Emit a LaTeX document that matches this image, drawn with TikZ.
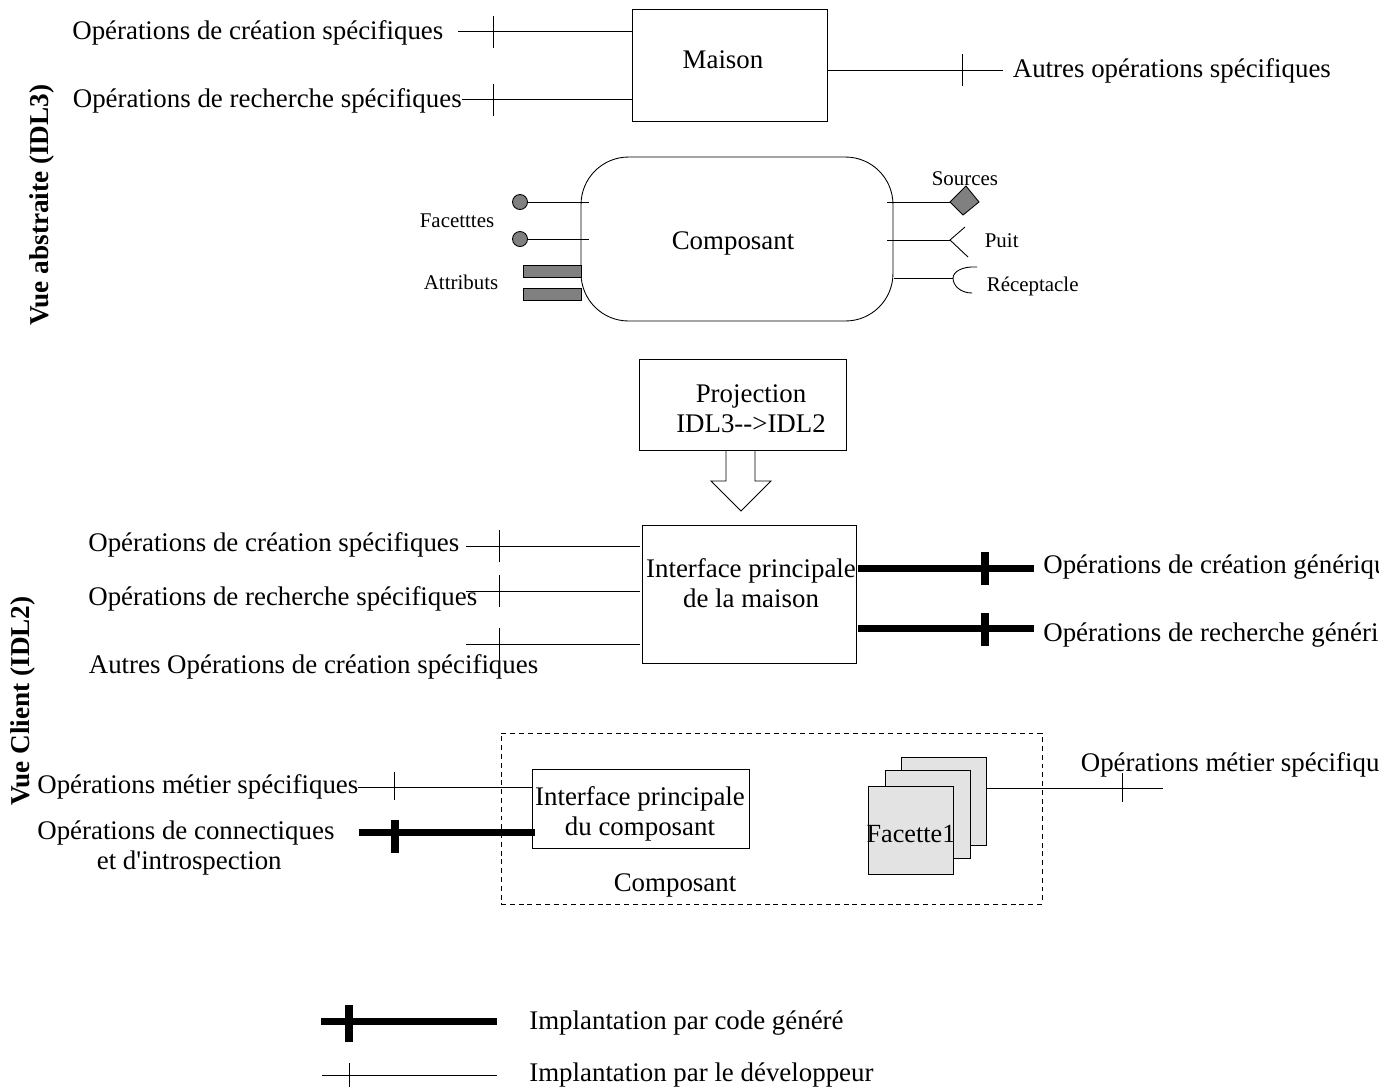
\documentclass[tikz,border=0pt]{standalone}
\usepackage{fontspec}
\setmainfont{Liberation Serif}[Ligatures=TeXOff]

\tikzset{
  fil/.style={draw=black,line width=0.5pt},
  fort/.style={draw=black,line width=4pt},
  boite/.style={draw=black,line width=0.5pt,inner sep=0pt},
  etiq/.style={anchor=base west,inner sep=0pt,font=\fontsize{15.3}{17}\selectfont},
  petit/.style={anchor=base west,inner sep=0pt,font=\fontsize{11.9}{13}\selectfont},
  texte/.style={anchor=center,inner sep=0pt,align=center,font=\fontsize{15.3}{17}\selectfont},
  vue/.style={anchor=center,inner sep=0pt,rotate=90,font=\fontsize{15.5}{17}\selectfont\bfseries},
  feuille/.style={boite,fill=black!11,minimum width=1.7cm,minimum height=1.76cm}
}

\begin{document}
\begin{tikzpicture}[x=0.02cm,y=-0.02cm]
\useasboundingbox (0,0) rectangle (1379,1090);
\clip (0,0) rectangle (1379,1090);

% vues
\node[vue] (vueabs) at (41.5,205) {Vue abstraite (IDL3)};
\node[vue] (vuecli) at (23,701) {Vue Client (IDL2)};

% maison
\node[boite,minimum width=3.9cm,minimum height=2.24cm] (maison) at (730,65.5) {};
\node[texte] (maisontxt) at (723,60) {Maison};
\node[etiq] (mcre) at (72,39) {Opérations de création spécifiques};
\node[etiq] (mrec) at (72.5,107) {Opérations de recherche spécifiques};
\node[etiq] (maut) at (1012.5,77) {Autres opérations spécifiques};
\coordinate (mcrefin) at (458,31);
\coordinate (mrecfin) at (462,99);
\coordinate (mautfin) at (1003,70);
\draw[fil] (mcrefin) -- (mcrefin -| maison.west);
\draw[fil] (mrecfin) -- (mrecfin -| maison.west);
\draw[fil] (mautfin -| maison.east) -- (mautfin);

% composant
\node[boite,rounded corners=0.95cm,minimum width=6.24cm,minimum height=3.28cm] (comp) at (737,239) {};
\node[texte] (comptxt) at (733,243) {Composant};
\node[petit] (fac) at (419.5,227) {Facetttes};
\node[petit] (att) at (423.5,289) {Attributs};
\node[petit] (src) at (931.5,185) {Sources};
\node[petit] (puit) at (984.5,247) {Puit};
\node[petit] (rec) at (986.5,291) {Réceptacle};

\foreach \y in {202,239}{
  \draw[fil] (520,\y) -- (589,\y);
  \filldraw[fil,fill=black!50] (520,\y) circle (7.5);
}
\foreach \y in {271,294}
  \filldraw[fil,fill=black!50] (523,\y-6) rectangle (581,\y+6);

% source, puit, receptacle
\draw[fil] (887,202) -- (950,202);
\filldraw[fil,fill=black!50] (950,202) -- (966,186) -- (979,202) -- (963,215) -- cycle;
\draw[fil] (887,240) -- (950,240);
\draw[fil] (965,227) -- (950,240) -- (968,257);
\draw[fil] (894,278) -- (953,278);
\draw[fil] (977,267) .. controls (962,266) and (953,272) .. (953,278) .. controls (953,286) and (961,293) .. (972,293);

% projection
\node[boite,minimum width=4.14cm,minimum height=1.82cm] (proj) at (742.5,405) {};
\node[texte] (projtxt) at (751,409) {Projection\\IDL3-->IDL2};
\draw[fil] (726,451) -- (726,481) -- (711,481) -- (741,511) -- (771,481) -- (755,481) -- (755,451);

% interface principale de la maison
\node[boite,minimum width=4.28cm,minimum height=2.76cm] (ipm) at (749.5,594) {};
\node[texte] (ipmtxt) at (751,583) {Interface principale\\de la maison};
\node[etiq] (icre) at (88,551) {Opérations de création spécifiques};
\node[etiq] (irec) at (88,605) {Opérations de recherche spécifiques};
\node[etiq] (iaut) at (88.5,673) {Autres Opérations de création spécifiques};
\node[etiq] (gcre) at (1043,573) {Opérations de création génériques};
\node[etiq] (grec) at (1043,641) {Opérations de recherche génériques};
\foreach \y in {546,591,644}
  \draw[fil] (466,\y) -- (640,\y);
\draw[fort] (858,568) -- (1034,568);
\draw[fort] (858,628) -- (1034,628);

% composant vu du client
\node[boite,dash pattern=on 2.8pt off 2.2pt,minimum width=10.82cm,minimum height=3.42cm] (cadre) at (771.5,818.5) {};
\node[texte] (cadretxt) at (675,885) {Composant};
\node[boite,minimum width=4.34cm,minimum height=1.58cm] (ipc) at (640.5,808.5) {};
\node[texte] (ipctxt) at (640,814) {Interface principale\\du composant};
\node[feuille] (f3) at (944,801) {};
\node[feuille] (f2) at (928,814) {};
\node[feuille] (f1) at (910.5,830.5) {};
\node[texte,font=\fontsize{14.9}{17}\selectfont] (f1txt) at (911,834) {Facette1};
\node[etiq] (omet) at (37,793) {Opérations métier spécifiques};
\node[etiq] (ocon) at (37,839.5) {Opérations de connectiques};
\node[etiq] (oint) at (96.5,869.5) {et d'introspection};
\node[etiq] (fmet) at (1080.5,771) {Opérations métier spécifiques};
\draw[fil] (358,787) -- (ipc.west |- 0,787);
\draw[fort] (359,832) -- (535,832);
\draw[fil] (f3.east |- 0,788) -- (1163,788);

% legende
\coordinate (lega) at (321,1021);
\coordinate (legb) at (497,1021);
\coordinate (legc) at (322,1075);
\coordinate (legd) at (497,1075);
\draw[fort] (lega) -- (legb);
\draw[fil] (legc) -- (legd);
\node[etiq] (leggen) at (529,1029) {Implantation par code généré};
\node[etiq] (legdev) at (529,1081.5) {Implantation par le développeur};

% barres
\foreach \x/\y/\z in {493/16/48,493/84/116,962/54/86,499/530/562,499/575/607,499/628/660,394/772/800,1122/773/802,349/1063/1087}
  \draw[fil] (\x,\y) -- (\x,\z);
\foreach \x/\y/\z in {985/552/585,985/613/646,395/820/853,349/1005/1042}
  \draw[black,line width=4.5pt] (\x,\y) -- (\x,\z);

\end{tikzpicture}
\end{document}
